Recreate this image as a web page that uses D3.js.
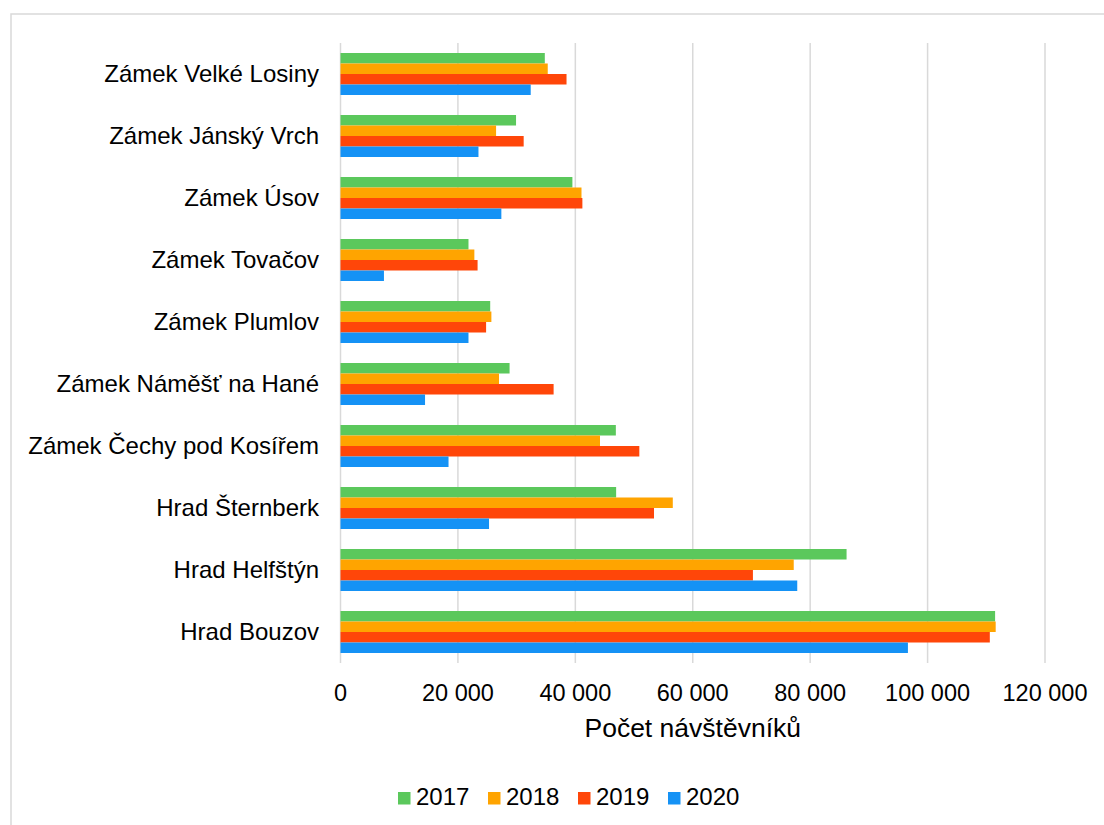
<!DOCTYPE html>
<html>
<head>
<meta charset="utf-8">
<script src="https://cdn.jsdelivr.net/npm/d3@7"></script>
<style>
	body { margin: 0; background: #fff; }
	text { font-family: "Liberation Sans", Arial, sans-serif; fill: #000; }
</style>
</head>
<body>
<div class="container"></div>
<script>
// categories, top to bottom
const categories = [
	"Zámek Velké Losiny",
	"Zámek Jánský Vrch",
	"Zámek Úsov",
	"Zámek Tovačov",
	"Zámek Plumlov",
	"Zámek Náměšť na Hané",
	"Zámek Čechy pod Kosířem",
	"Hrad Šternberk",
	"Hrad Helfštýn",
	"Hrad Bouzov"
];

const years = ["2017", "2018", "2019", "2020"];
const colors = ["#5bc85c", "#ffa400", "#ff4609", "#1592f5"];

// visitors per year, same order as categories
const v2017 = [34800, 29900, 39500, 21800, 25500, 28800, 46900, 46950, 86200, 111500];
const v2018 = [35300, 26500, 41050, 22800, 25700, 27000, 44200, 56600, 77200, 111600];
const v2019 = [38500, 31200, 41200, 23350, 24800, 36300, 50900, 53400, 70250, 110600];
const v2020 = [32400, 23500, 27400, 7400, 21800, 14400, 18400, 25300, 77800, 96650];

const xTicks = [0, 20000, 40000, 60000, 80000, 100000, 120000];
const axisTitle = "Počet návštěvníků";

const series = [v2017, v2018, v2019, v2020];

const width = 1104, height = 825;

let svg = d3.select(".container")
	.append("svg")
	.attr("width", width)
	.attr("height", height);

svg.append("rect")
	.attr("width", "100%")
	.attr("height", "100%")
	.attr("fill", "white");

// chart frame (right and bottom edges fall outside the picture)
svg.append("rect")
	.attr("x", 11)
	.attr("y", 14)
	.attr("width", 1110)
	.attr("height", 830)
	.attr("fill", "none")
	.attr("stroke", "#d9d9d9")
	.attr("stroke-width", 1.5);

const x = d3.scaleLinear().domain([0, 120000]).range([340.5, 1045]);

const pin = 20 / 62;
const y = d3.scaleBand()
	.domain(categories)
	.range([43, 663])
	.paddingInner(pin)
	.paddingOuter(pin / 2);

const ySub = d3.scaleBand()
	.domain(years)
	.range([0, y.bandwidth()]);

// gridlines
svg.append("g")
	.selectAll("line")
	.data(xTicks)
	.join("line")
	.attr("x1", d => x(d))
	.attr("x2", d => x(d))
	.attr("y1", 43)
	.attr("y2", 663)
	.attr("stroke", "#d9d9d9")
	.attr("stroke-width", 1.5);

// bars
const groups = svg.append("g")
	.selectAll("g")
	.data(categories)
	.join("g")
	.attr("transform", d => `translate(0,${y(d)})`);

groups.selectAll("rect")
	.data((d, i) => years.map((yr, j) => ({year: yr, value: series[j][i], color: colors[j]})))
	.join("rect")
	.attr("x", x(0))
	.attr("y", d => ySub(d.year))
	.attr("width", d => x(d.value) - x(0))
	.attr("height", ySub.bandwidth())
	.attr("fill", d => d.color);

// category labels
svg.append("g")
	.selectAll("text")
	.data(categories)
	.join("text")
	.attr("x", 319)
	.attr("y", d => y(d) + y.bandwidth() / 2)
	.attr("dy", "0.34em")
	.attr("text-anchor", "end")
	.style("font-size", "24px")
	.text(d => d);

// x tick labels
const fmt = d3.formatLocale({decimal: ",", thousands: "\u00a0", grouping: [3], currency: ["", ""]}).format(",d");
svg.append("g")
	.selectAll("text")
	.data(xTicks)
	.join("text")
	.attr("x", d => x(d))
	.attr("y", 701)
	.attr("text-anchor", "middle")
	.style("font-size", "23.5px")
	.text(d => fmt(d));

svg.append("text")
	.attr("x", (x(0) + x(120000)) / 2)
	.attr("y", 737)
	.attr("text-anchor", "middle")
	.style("font-size", "26.5px")
	.text(axisTitle);

// legend
const legend = svg.append("g")
	.selectAll("g")
	.data(years)
	.join("g")
	.attr("transform", (d, i) => `translate(${398 + i * 90},0)`);

legend.append("rect")
	.attr("x", 0)
	.attr("y", 792)
	.attr("width", 12.5)
	.attr("height", 12.5)
	.attr("fill", (d, i) => colors[i]);

legend.append("text")
	.attr("x", 18)
	.attr("y", 805)
	.style("font-size", "24px")
	.text(d => d);
</script>
</body>
</html>
